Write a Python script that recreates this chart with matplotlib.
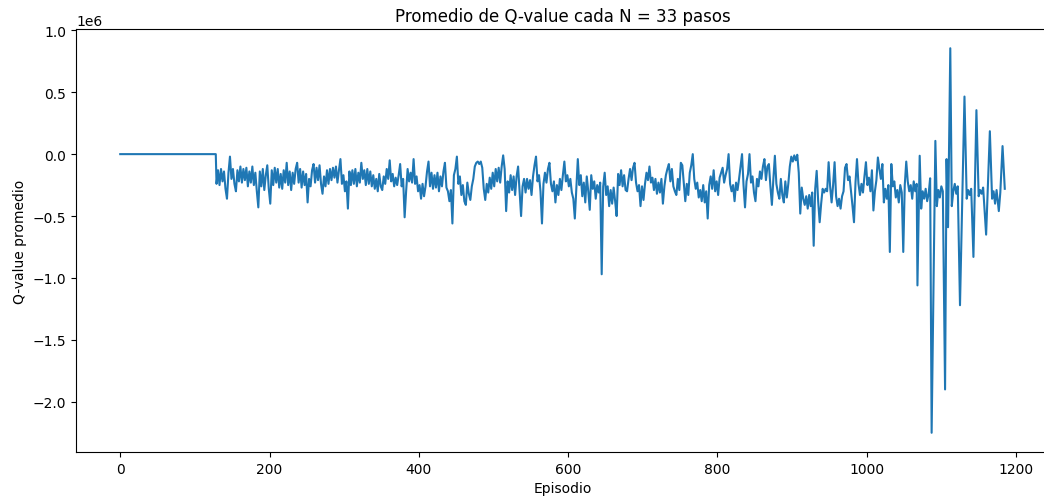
import numpy as np
import matplotlib
matplotlib.use("Agg")
import matplotlib.pyplot as plt

# Warm-up episodes: the averaged Q-value stays at zero
warmup_episodes = [0, 128]
warmup_q_k = [0, 0]

# Averaged Q-value (thousands), one sample every 2 episodes from 129 to 1067
dense_start = 129
dense_step = 2
dense_q_k = [
    -240, -130, -250, -120, -220, -140, -280, -360, -150, -20,
    -200, -120, -240, -300, -130, -220, -100, -230, -120, -210,
    -110, -260, -140, -230, -100, -250, -150, -300, -430, -140,
    -260, -120, -290, -170, -90, -280, -400, -130, -250, -110,
    -230, -120, -270, -160, -280, -130, -230, -70, -250, -140,
    -290, -150, -240, -120, -70, -230, -120, -270, -140, -250,
    -160, -390, -200, -260, -130, -80, -230, -110, -210, -90,
    -240, -320, -180, -260, -130, -240, -120, -210, -110, -190,
    -100, -230, -130, -40, -240, -170, -300, -220, -440, -140,
    -250, -130, -240, -120, -260, -150, -230, -70, -200, -130,
    -250, -120, -240, -140, -260, -170, -280, -200, -300, -160,
    -260, -290, -180, -240, -120, -200, -50, -220, -160, -260,
    -190, -250, -170, -80, -260, -200, -510, -300, -120, -220,
    -150, -230, -40, -240, -180, -300, -250, -360, -240, -340,
    -260, -140, -60, -260, -150, -280, -170, -270, -150, -300,
    -180, -260, -140, -70, -270, -300, -380, -290, -560, -170,
    -120, -20, -240, -180, -330, -250, -380, -410, -230, -320,
    -370, -260, -200, -100, -70, -60, -80, -60, -110, -280,
    -370, -240, -310, -190, -280, -150, -260, -120, -220, -110,
    -230, -100, -10, -120, -460, -220, -310, -170, -290, -180,
    -330, -180, -100, -300, -500, -260, -200, -310, -200, -280,
    -210, -330, -180, -90, -20, -220, -170, -300, -560, -240,
    -150, -230, -120, -70, -240, -300, -220, -390, -250, -330,
    -200, -290, -170, -60, -220, -170, -260, -200, -310, -360,
    -520, -280, -40, -250, -170, -340, -230, -390, -180, -300,
    -450, -170, -280, -220, -360, -250, -310, -230, -970, -260,
    -150, -330, -260, -420, -290, -400, -270, -380, -500, -160,
    -250, -130, -260, -170, -290, -300, -200, -120, -210, -110,
    -70, -230, -300, -250, -420, -260, -370, -240, -150, -210,
    -100, -230, -190, -290, -200, -320, -230, -310, -200, -400,
    -260, -170, -120, -80, -220, -120, -260, -300, -330, -200,
    -290, -70, -90, -230, -380, -240, -330, -150, -90, 0,
    -200, -280, -230, -350, -290, -380, -250, -390, -300, -520,
    -250, -180, -280, -130, -300, -220, -330, -190, -150, -110,
    -230, -170, -120, 0, -240, -300, -250, -380, -230, -290,
    -200, -100, 0, -250, -430, -220, -160, 0, -230, -180,
    -310, -380, -200, -260, -140, -200, -100, -40, -210, -100,
    -80, -260, -410, -200, -13, -240, -310, -360, -200, -330,
    -390, -220, -350, -240, -100, -20, -60, -10, -50, -5,
    -150, -480, -270, -360, -410, -340, -440, -330, -420, -310,
    -740, -280, -135, -380, -550, -400, -280, -310, -280, -300,
    -65, -260, -390, -250, -65, -340, -420, -360, -440, -340,
    -300, -110, -80, -210, -180, -300, -420, -550, -230, -40,
    -240, -330, -240, -310, -180, -65, -250, -190, -300, -130,
    -455, -300, -210, -27, -120, -200, -80, -390, -280, -360,
    -250, -790, -80, -260, -220, -350, -290, -390, -250, -310,
    -790, -250, -60, -220, -300, -250, -360, -220, -300, -240,
]

# Late episodes, where each 33-step average spans several episodes
late_episodes = [
    1068, 1071, 1073, 1075, 1077, 1079, 1081, 1083, 1085, 1087,
    1092, 1094, 1096, 1098, 1100, 1102, 1105, 1107, 1109, 1112,
    1114, 1116, 1118, 1120, 1122, 1125, 1131, 1134, 1136, 1138,
    1140, 1143, 1147, 1150, 1152, 1154, 1156, 1160, 1165, 1168,
    1170, 1172, 1174, 1177, 1179, 1182, 1185,
]
late_q_k = [
    -1060, -13, -440, -300, -360, -280, -380, -320, -195, -2250,
    107, -420, -290, -350, -260, -300, -1900, -40, -590, 855,
    -420, -300, -240, -320, -260, -1220, 465, -360, -290, -330,
    -280, -830, 355, -340, -290, -320, -270, -650, 185, -360,
    -300, -400, -290, -460, -310, 65, -280,
]

dense_episodes = list(range(dense_start, dense_start + dense_step * len(dense_q_k), dense_step))
episodes = np.array(warmup_episodes + dense_episodes + late_episodes, dtype=float)
q_values = np.array(warmup_q_k + dense_q_k + late_q_k, dtype=float) * 1e3

fig = plt.figure(figsize=(10.44, 5.02), dpi=100)
ax = fig.add_axes([0.0728, 0.0976, 0.932, 0.8426])
ax.plot(episodes, q_values, color="#1f77b4", linewidth=1.5)

ax.set_title("Promedio de Q-value cada N = 33 pasos", fontsize=12)
ax.set_xlabel("Episodio")
ax.set_ylabel("Q-value promedio")
ax.set_xticks([0, 200, 400, 600, 800, 1000, 1200])

fig.savefig("out.png", dpi=100)
